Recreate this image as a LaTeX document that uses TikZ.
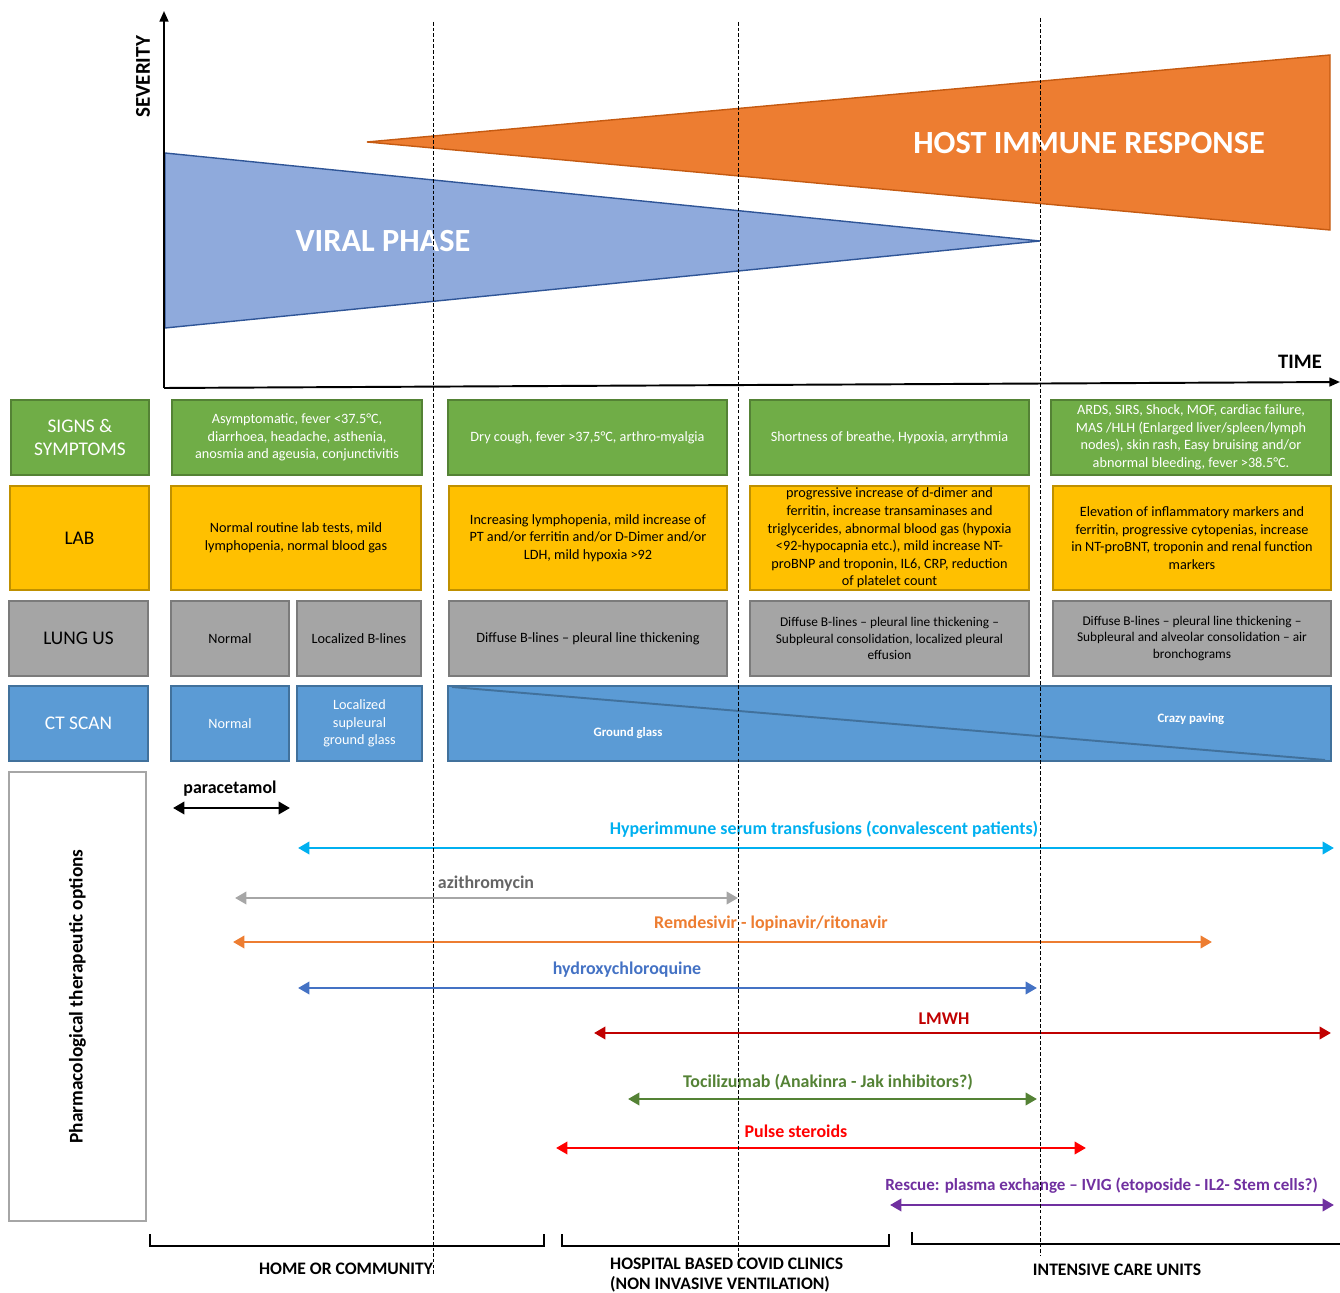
\documentclass[tikz,border=0pt]{standalone}
\usepackage{fontspec}
\setmainfont{Carlito}
\usetikzlibrary{arrows.meta}
\definecolor{sgreen}{HTML}{70AD47}
\definecolor{sgreenb}{HTML}{548235}
\definecolor{labyel}{HTML}{FFC000}
\definecolor{labyelb}{HTML}{BF9000}
\definecolor{lunggray}{HTML}{A5A5A5}
\definecolor{lunggrayb}{HTML}{7B7B7B}
\definecolor{ctblue}{HTML}{5B9BD5}
\definecolor{ctblueb}{HTML}{41719C}
\definecolor{viral}{HTML}{8FAADC}
\definecolor{viralb}{HTML}{2F5597}
\definecolor{host}{HTML}{ED7D31}
\definecolor{hostb}{HTML}{C55A11}
\definecolor{pgray}{HTML}{A6A6A6}
\definecolor{azigray}{HTML}{A6A6A6}
\definecolor{azitext}{HTML}{666666}
\definecolor{serum}{HTML}{00B0F0}
\definecolor{hcq}{HTML}{4472C4}
\definecolor{lmwh}{HTML}{C00000}
\definecolor{toci}{HTML}{548235}
\definecolor{pulse}{HTML}{FF0000}
\definecolor{rescue}{HTML}{7030A0}

\begin{document}
\begin{tikzpicture}[x=0.02cm,y=-0.02cm,
  cell/.style={draw, line width=0.9pt, align=center, inner sep=1pt,
    font=\fontsize{8.1}{10}\selectfont},
  rowlabel/.style={cell, font=\fontsize{11}{13.6}\selectfont},
  signs/.style={fill=sgreen, draw=sgreenb, text=white, minimum height=1.5cm},
  lab/.style={fill=labyel, draw=labyelb, text=black, minimum height=2.08cm},
  lung/.style={fill=lunggray, draw=lunggrayb, text=black, minimum height=1.5cm},
  ct/.style={fill=ctblue, draw=ctblueb, text=white, minimum height=1.5cm},
  drug/.style={line width=1.6pt,
    {Triangle[length=6.5pt,width=7pt]}-{Triangle[length=6.5pt,width=7pt]}},
  druglabel/.style={font=\fontsize{10.2}{12}\selectfont\bfseries},
  phaseline/.style={dash pattern=on 2pt off 1.2pt, line width=0.45pt},
  bracket/.style={line width=1.3pt},
  place/.style={font=\fontsize{10}{11.3}\selectfont\bfseries, align=left},
  title/.style={font=\fontsize{18.4}{20}\selectfont\bfseries, text=white}]

\useasboundingbox (0,0) rectangle (1340,1293);

% severity / time
\coordinate (orig) at (164,388);
\coordinate (ytop) at (164,11);
\coordinate (xend) at (1340,382);
\draw[fill=host, draw=hostb, line width=0.8pt] (367,142) -- (1330,55) -- (1330,230) -- cycle;
\draw[fill=viral, draw=viralb, line width=0.8pt] (165,153) -- (1040,241) -- (165,328) -- cycle;
\node[title] (hostlbl) at (1089,143) {HOST IMMUNE RESPONSE};
\node[title] (virallbl) at (383,241) {VIRAL PHASE};
\draw[line width=1.1pt, -{Triangle[length=6pt,width=5pt]}] (orig) -- (ytop);
\draw[line width=1.1pt, -{Triangle[length=6pt,width=5pt]}] (orig) -- (xend);
\node[rotate=90, font=\fontsize{12}{12}\selectfont\bfseries] (sev) at (143,77) {SEVERITY};
\node[font=\fontsize{11.7}{12}\selectfont\bfseries] (time) at (1300,362) {TIME};

% signs & symptoms
\node[rowlabel, signs, minimum width=2.76cm] (signs) at (80,437.5) {SIGNS \&\\SYMPTOMS};
\node[cell, signs, minimum width=5cm] (signs1) at (297,437.5)
  {Asymptomatic, fever <37.5°C,\\diarrhoea, headache, asthenia,\\anosmia and ageusia, conjunctivitis};
\node[cell, signs, minimum width=5.58cm] (signs2) at (587.5,437.5)
  {Dry cough, fever >37,5°C, arthro-myalgia};
\node[cell, signs, minimum width=5.58cm] (signs3) at (889.5,437.5)
  {Shortness of breathe, Hypoxia, arrythmia};
\node[cell, signs, minimum width=5.6cm] (signs4) at (1191,437.5)
  {ARDS, SIRS, Shock, MOF, cardiac failure,\\MAS /HLH (Enlarged liver/spleen/lymph\\nodes), skin rash, Easy bruising and/or\\abnormal bleeding, fever >38.5°C.};

% lab
\node[rowlabel, lab, minimum width=2.78cm] (lab) at (79.5,538) {LAB};
\node[cell, lab, minimum width=5cm] (lab1) at (296,538)
  {Normal routine lab tests, mild\\lymphopenia, normal blood gas};
\node[cell, lab, minimum width=5.56cm] (lab2) at (588,538)
  {Increasing lymphopenia, mild increase of\\PT and/or ferritin and/or D-Dimer and/or\\LDH, mild hypoxia >92};
\node[cell, lab, minimum width=5.58cm] (lab3) at (889.5,538)
  {progressive increase of d-dimer and\\ferritin, increase transaminases and\\triglycerides, abnormal blood gas (hypoxia\\<92-hypocapnia etc.), mild increase NT-\\proBNP and troponin, IL6, CRP, reduction\\of platelet count};
\node[cell, lab, minimum width=5.56cm] (lab4) at (1192,538)
  {Elevation of inflammatory markers and\\ferritin, progressive cytopenias, increase\\in NT-proBNT, troponin and renal function\\markers};

% lung us
\node[rowlabel, lung, minimum width=2.78cm] (lung) at (78.5,638.5) {LUNG US};
\node[cell, lung, minimum width=2.36cm] (lung1a) at (230,638.5) {Normal};
\node[cell, lung, minimum width=2.48cm] (lung1b) at (359,638.5) {Localized B-lines};
\node[cell, lung, minimum width=5.56cm] (lung2) at (588,638.5)
  {Diffuse B-lines – pleural line thickening};
\node[cell, lung, minimum width=5.58cm, font=\fontsize{7.6}{9.6}\selectfont] (lung3) at (889.5,638.5)
  {Diffuse B-lines – pleural line thickening –\\Subpleural consolidation, localized pleural\\effusion};
\node[cell, lung, minimum width=5.56cm, font=\fontsize{7.6}{9.6}\selectfont] (lung4) at (1192,638.5)
  {Diffuse B-lines – pleural line thickening –\\Subpleural and alveolar consolidation – air\\bronchograms};

% ct scan
\node[rowlabel, ct, minimum width=2.78cm] (ct) at (78.5,723.5) {CT SCAN};
\node[cell, ct, minimum width=2.36cm] (ct1a) at (230,723.5) {Normal};
\node[cell, ct, minimum width=2.5cm] (ct1b) at (359.5,723.5) {Localized\\supleural\\ground glass};
\node[cell, ct, minimum width=17.66cm] (ct2) at (889.5,723.5) {};
\draw[ctblueb, line width=1.1pt] (452,687) -- (1325,760);
\node[font=\fontsize{7.3}{9}\selectfont\bfseries, text=white] (ground) at (628,733) {Ground glass};
\node[font=\fontsize{7.3}{9}\selectfont\bfseries, text=white] (crazy) at (1191,719) {Crazy paving};

% therapeutic options
\node[draw=pgray, line width=0.9pt, minimum width=2.74cm, minimum height=8.98cm] (pharm) at (77.5,996.5) {};
\node[rotate=90, font=\fontsize{11}{12}\selectfont\bfseries] (pharmlbl) at (pharm.center) {Pharmacological therapeutic options};

\coordinate (para-l) at (173,808);   \coordinate (para-r) at (290,808);
\coordinate (serum-l) at (298,848);  \coordinate (serum-r) at (1334,848);
\coordinate (azi-l) at (235,898);    \coordinate (azi-r) at (738,898);
\coordinate (remd-l) at (233,942);   \coordinate (remd-r) at (1212,942);
\coordinate (hcq-l) at (298,988);    \coordinate (hcq-r) at (1037,988);
\coordinate (lmwh-l) at (594,1033);  \coordinate (lmwh-r) at (1331,1033);
\coordinate (toci-l) at (628,1099);  \coordinate (toci-r) at (1037,1099);
\coordinate (pulse-l) at (556,1148); \coordinate (pulse-r) at (1086,1148);
\coordinate (resc-l) at (890,1205);  \coordinate (resc-r) at (1334,1205);

\draw[drug, black] (para-l) -- (para-r);
\draw[drug, serum] (serum-l) -- (serum-r);
\draw[drug, azigray] (azi-l) -- (azi-r);
\draw[drug, host] (remd-l) -- (remd-r);
\draw[drug, hcq] (hcq-l) -- (hcq-r);
\draw[drug, lmwh] (lmwh-l) -- (lmwh-r);
\draw[drug, toci] (toci-l) -- (toci-r);
\draw[drug, pulse] (pulse-l) -- (pulse-r);
\draw[drug, rescue] (resc-l) -- (resc-r);

\node[druglabel] (para) at (230,789) {paracetamol};
\node[druglabel, text=serum] (serumlbl) at (824,829) {Hyperimmune serum transfusions (convalescent patients)};
\node[druglabel, text=azitext] (azi) at (486,884) {azithromycin};
\node[druglabel, text=host] (remd) at (771,924) {Remdesivir - lopinavir/ritonavir};
\node[druglabel, text=hcq] (hcqlbl) at (627,970) {hydroxychloroquine};
\node[druglabel, text=lmwh] (lmwhlbl) at (944,1019) {LMWH};
\node[druglabel, text=toci] (toci) at (828,1082) {Tocilizumab (Anakinra - Jak inhibitors?)};
\node[druglabel, text=pulse] (pulselbl) at (796,1131) {Pulse steroids};
\node[druglabel, text=rescue, anchor=west, inner xsep=0pt,
  font=\fontsize{9.7}{12}\selectfont\bfseries] (resc) at (885,1186)
  {Rescue: plasma exchange – IVIG (etoposide - IL2- Stem cells?)};

% settings of care
\draw[bracket] (150,1234) -- (150,1246) -- (544,1246) -- (544,1234);
\draw[bracket] (562,1234) -- (562,1246) -- (889,1246) -- (889,1234);
\draw[bracket] (912,1232) -- (912,1244) -- (1342,1244);
\node[place] (home) at (346,1269) {HOME OR COMMUNITY};
\node[place, anchor=west] (clinic) at (604,1275) {HOSPITAL BASED COVID CLINICS\\(NON INVASIVE VENTILATION)};
\node[place] (icu) at (1117,1270) {INTENSIVE CARE UNITS};

% phase boundaries
\draw[phaseline] (433,22) -- (433,1275);
\draw[phaseline] (738,22) -- (738,1270);
\draw[phaseline] (1040,18) -- (1040,1255);
\end{tikzpicture}
\end{document}
